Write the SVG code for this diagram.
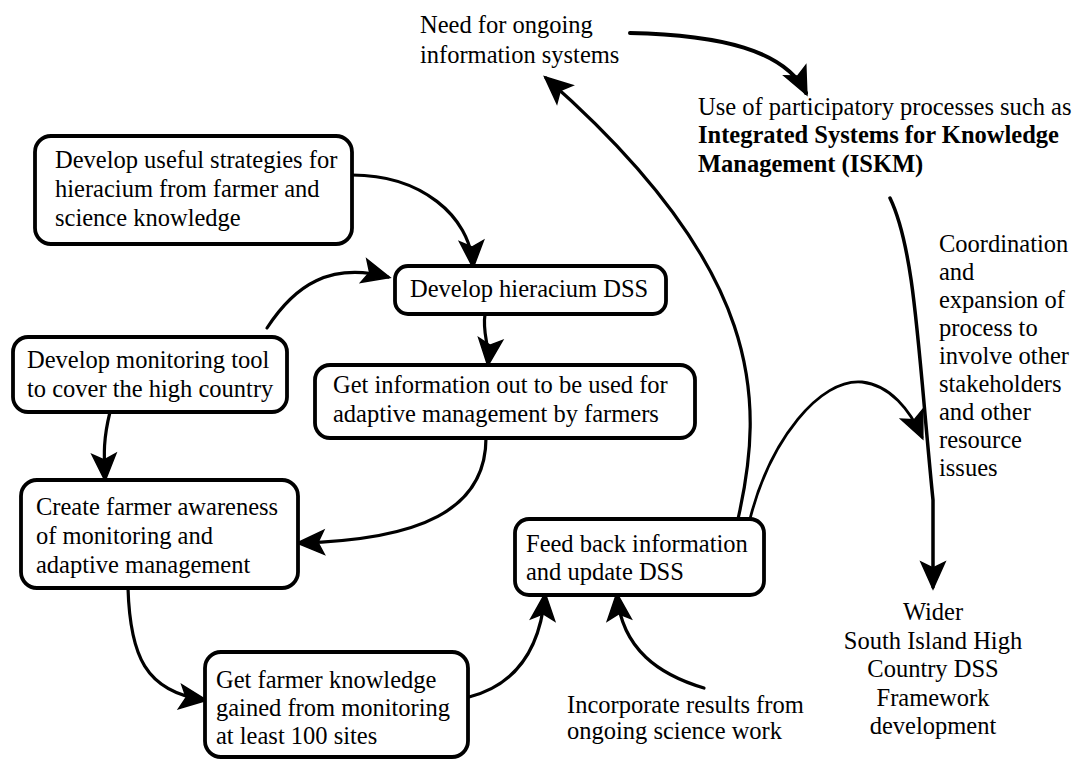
<svg xmlns="http://www.w3.org/2000/svg" width="1081" height="760" viewBox="0 0 1081 760">
<style>
.box{fill:#fff;stroke:#000;stroke-width:3.8}
.t{font-family:"Liberation Serif","Times New Roman",serif;font-size:24.5px;fill:#000}
.b{font-weight:bold}
.c{fill:none;stroke:#000;stroke-width:3.2;stroke-linecap:round}
</style>
<defs>
<marker id="ah" markerUnits="userSpaceOnUse" markerWidth="40" markerHeight="40" refX="0" refY="0" orient="auto" overflow="visible">
<path d="M2,0 L-25,-12 L-19,0 L-25,12 Z" fill="#000" stroke="#000" stroke-width="1.5" stroke-linejoin="miter"/>
</marker>
</defs>
<rect width="1081" height="760" fill="#fff"/>
<g id="connectors">
<path class="c" d="M352,175 C420,175 470,215 473,266" marker-end="url(#ah)"/>
<path class="c" d="M267,328 C295,285 330,262 388,277" marker-end="url(#ah)"/>
<path class="c" d="M485,314 C482,335 490,345 488,364" marker-end="url(#ah)"/>
<path class="c" d="M110,412 C103,440 104,455 105,479" marker-end="url(#ah)"/>
<path class="c" d="M486,438 C486,510 420,540 299,543" marker-end="url(#ah)"/>
<path class="c" d="M128,588 C130,655 145,692 205,700" marker-end="url(#ah)"/>
<path class="c" d="M469,697 C515,685 540,650 545,595" marker-end="url(#ah)"/>
<path class="c" d="M704,688 C660,675 622,650 617,595" marker-end="url(#ah)"/>
<path class="c" d="M738,519 C765,400 765,270 546,78" marker-end="url(#ah)"/>
<path class="c" style="stroke-width:2.8" d="M750,519 C770,440 820,378 862,382 C890,385 910,410 922,437" marker-end="url(#ah)"/>
<path class="c" style="stroke-width:4" d="M630,33 C720,35 785,50 806,93" marker-end="url(#ah)"/>
<path class="c" style="stroke-width:3.5" d="M890,198 C915,250 918,350 933,500 L933,587" marker-end="url(#ah)"/>
</g>
<g id="n1">
<rect class="box" x="35" y="136" width="317" height="108" rx="16"/>
<text class="t" x="55" y="168">Develop useful strategies for</text>
<text class="t" x="55" y="197">hieracium from farmer and</text>
<text class="t" x="55" y="226">science knowledge</text>
</g>
<g id="n2">
<rect class="box" x="395" y="266" width="271" height="48" rx="13"/>
<text class="t" x="410" y="297">Develop hieracium DSS</text>
</g>
<g id="n3">
<rect class="box" x="13" y="337" width="274" height="75" rx="15"/>
<text class="t" x="27" y="368">Develop monitoring tool</text>
<text class="t" x="27" y="397">to cover the high country</text>
</g>
<g id="n4">
<rect class="box" x="315" y="365" width="380" height="73" rx="15"/>
<text class="t" x="333" y="393">Get information out to be used for</text>
<text class="t" x="333" y="422">adaptive management by farmers</text>
</g>
<g id="n5">
<rect class="box" x="21" y="480" width="277" height="108" rx="16"/>
<text class="t" x="36" y="515">Create farmer awareness</text>
<text class="t" x="36" y="544">of monitoring and</text>
<text class="t" x="36" y="573">adaptive management</text>
</g>
<g id="n6">
<rect class="box" x="205" y="652" width="263" height="105" rx="16"/>
<text class="t" x="216" y="688">Get farmer knowledge</text>
<text class="t" x="216" y="716">gained from monitoring</text>
<text class="t" x="216" y="744">at least 100 sites</text>
</g>
<g id="n7">
<rect class="box" x="515" y="519" width="249" height="76" rx="14"/>
<text class="t" x="526" y="552">Feed back information</text>
<text class="t" x="526" y="580">and update DSS</text>
</g>
<g id="n8">
<text class="t" x="420" y="33">Need for ongoing</text>
<text class="t" x="420" y="63">information systems</text>
</g>
<g id="n9">
<text class="t" x="698" y="115">Use of participatory processes such as</text>
<text class="t b" x="698" y="143">Integrated Systems for Knowledge</text>
<text class="t b" x="698" y="172">Management (ISKM)</text>
</g>
<g id="n10">
<text class="t" x="939" y="252">Coordination</text>
<text class="t" x="939" y="280">and</text>
<text class="t" x="939" y="308">expansion of</text>
<text class="t" x="939" y="336">process to</text>
<text class="t" x="939" y="364">involve other</text>
<text class="t" x="939" y="392">stakeholders</text>
<text class="t" x="939" y="420">and other</text>
<text class="t" x="939" y="448">resource</text>
<text class="t" x="939" y="476">issues</text>
</g>
<g id="n11">
<text class="t" x="567" y="713">Incorporate results from</text>
<text class="t" x="567" y="739">ongoing science work</text>
</g>
<g id="n12" text-anchor="middle">
<text class="t" x="933" y="620">Wider</text>
<text class="t" x="933" y="649">South Island High</text>
<text class="t" x="933" y="677">Country DSS</text>
<text class="t" x="933" y="706">Framework</text>
<text class="t" x="933" y="734">development</text>
</g>
</svg>
